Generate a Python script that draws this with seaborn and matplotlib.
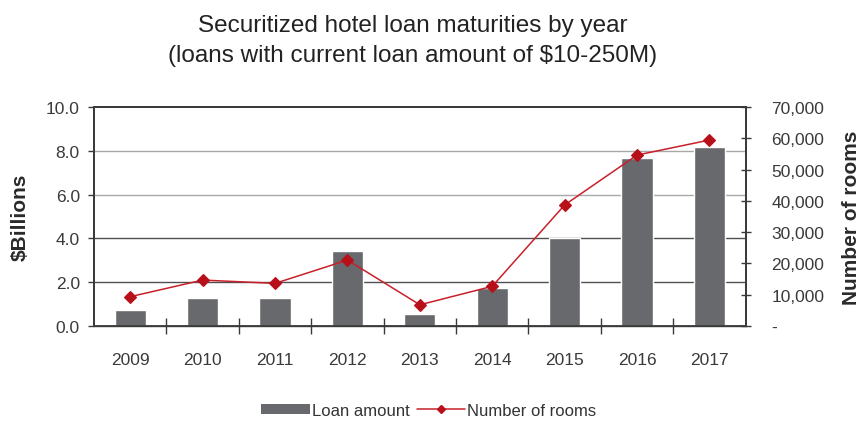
import matplotlib
matplotlib.use("Agg")
import matplotlib.pyplot as plt
import matplotlib.ticker as mticker
from matplotlib.lines import Line2D
from matplotlib.patches import Patch
import seaborn as sns
import pandas as pd

years = ["2009", "2010", "2011", "2012", "2013", "2014", "2015", "2016", "2017"]
loan_amount = [0.75, 1.3, 1.3, 3.45, 0.53, 1.72, 4.0, 7.69, 8.16]
rooms = [9400, 14700, 13650, 21100, 6800, 12700, 38700, 54650, 59450]

df = pd.DataFrame({"year": years, "loan": loan_amount, "rooms": rooms})

sns.set_theme(style="white")
plt.rcParams["font.family"] = ["Liberation Sans", "DejaVu Sans"]

bar_color = "#67696c"
line_color = "#c8202a"
marker_color = "#b8101a"
axis_color = "#3a3a3a"
label_color = "#3a3a3a"
tick_size = 12.5

fig = plt.figure(figsize=(8.63, 4.27), dpi=100)
ax = fig.add_axes([0.109, 0.234, 0.755, 0.513])

sns.barplot(data=df, x="year", y="loan", color=bar_color, width=0.43,
            saturation=1, ax=ax, zorder=3)

ax.set_ylim(0, 10)
ax.set_xlim(-0.5, len(years) - 0.5)
ax.yaxis.set_major_locator(mticker.MultipleLocator(2))
ax.yaxis.set_major_formatter(mticker.FormatStrFormatter("%.1f"))

# horizontal grid lines
for v, c in [(2, "#505050"), (4, "#505050"), (6, "#a8a8a8"), (8, "#a8a8a8")]:
    ax.axhline(v, color=c, lw=1.0, zorder=1)

ax2 = ax.twinx()
sns.pointplot(data=df, x="year", y="rooms", color=line_color, markers="D",
              markersize=6, linewidth=1.1, ax=ax2, zorder=4)
for ln in ax2.lines:
    ln.set_markerfacecolor(marker_color)
    ln.set_markeredgecolor(marker_color)
ax2.set_ylim(0, 70000)
ax2.set_xlim(-0.5, len(years) - 0.5)
ax2.yaxis.set_major_locator(mticker.MultipleLocator(10000))
ax2.yaxis.set_major_formatter(
    mticker.FuncFormatter(lambda v, p: "-" if v == 0 else f"{int(v):,}"))

# spines
for a in (ax, ax2):
    for s in a.spines.values():
        s.set_color(axis_color)
        s.set_linewidth(1.3)
ax.spines["bottom"].set_linewidth(1.0)

# ticks: category boundaries on x, labels centred under bars
ax.set_xticks(range(len(years)))
ax.set_xticklabels(years)
ax.set_xticks([i + 0.5 for i in range(len(years) - 1)], minor=True)
ax.tick_params(axis="x", which="major", length=0, pad=18.5,
               labelsize=tick_size, labelcolor=label_color)
ax.tick_params(axis="x", which="minor", direction="inout", length=11,
               width=1.0, color=axis_color, bottom=True)
ax.tick_params(axis="y", direction="out", length=4.5, width=1.0,
               color=axis_color, labelsize=tick_size, labelcolor=label_color,
               left=True, pad=5.8)
ax2.tick_params(axis="y", direction="inout", length=7, width=1.0,
                color=axis_color, labelsize=tick_size, labelcolor=label_color,
                right=True, pad=15)

ax.set_xlabel("")
ax.set_ylabel("$Billions", fontsize=15, fontweight="bold",
              color="#2a2a2a", labelpad=12)
ax2.set_ylabel("Number of rooms", fontsize=15, fontweight="bold",
               color="#2a2a2a", labelpad=13)

fig.text(0.478, 0.925, "Securitized hotel loan maturities by year",
         ha="center", va="baseline", fontsize=17.5, color="#222222")
fig.text(0.478, 0.855, "(loans with current loan amount of $10-250M)",
         ha="center", va="baseline", fontsize=17.5, color="#222222")

handles = [
    Patch(facecolor=bar_color, edgecolor="none", label="Loan amount"),
    Line2D([0], [0], color=line_color, lw=1.1, marker="D", markersize=4.5,
           markerfacecolor=marker_color, markeredgecolor=marker_color,
           label="Number of rooms"),
]
fig.legend(handles=handles, loc="center", bbox_to_anchor=(0.497, 0.037),
           ncol=2, frameon=False, fontsize=12, handlelength=2.9,
           handleheight=0.6, handletextpad=0.15, columnspacing=0.4,
           labelcolor="#333333")

fig.savefig("out.png", dpi=100, facecolor="white")
